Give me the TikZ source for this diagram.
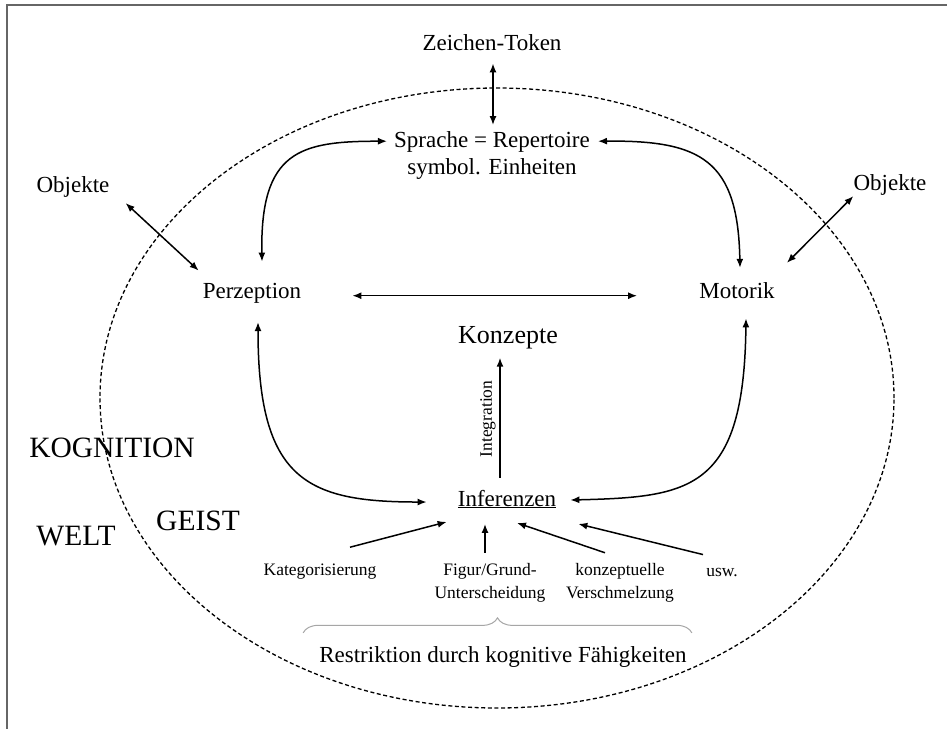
\documentclass[tikz,border=0pt]{standalone}
\usepackage{fontspec}
\setmainfont{Liberation Serif}
\usetikzlibrary{arrows.meta,decorations.pathreplacing}
\begin{document}
\begin{tikzpicture}[x=1pt,y=-1pt,
  lbl/.style={inner sep=0pt,font=\fontsize{23}{27}\selectfont},
  small/.style={inner sep=0pt,font=\fontsize{17.5}{23}\selectfont,align=center},
  big/.style={inner sep=0pt,font=\fontsize{29.5}{33}\selectfont},
  tip/.tip={Latex[length=9pt,width=7pt]},
  link/.style={line width=1.5pt,-tip},
  both/.style={line width=1.5pt,tip-tip},
  boundary/.style={line width=1.3pt,dash pattern=on 4pt off 2.6pt},
  frame/.style={line width=2pt,draw=black!60},
  restrbrace/.style={draw=black!35,line width=1pt,decorate,decoration={brace,amplitude=15pt}},
]
\useasboundingbox (0,0) rectangle (947,729);
\fill[white] (0,0) rectangle (947,729);
\draw[frame] (947,5) -- (6.7,5) -- (6.7,729);

% the mind as a dashed ellipse
\draw[boundary] (497,398) ellipse [x radius=397pt, y radius=310pt];

% labels
\node[lbl,anchor=base] (zt) at (492,50) {Zeichen-Token};
\node[lbl,align=center] (sp) at (492,155.2) {Sprache = Repertoire\\symbol. Einheiten};
\node[lbl,anchor=base] (objl) at (73,192) {Objekte};
\node[lbl,anchor=base] (objr) at (890,190) {Objekte};
\node[lbl,anchor=base] (perz) at (252,298) {Perzeption};
\node[lbl,anchor=base] (mot) at (737,298) {Motorik};
\node[lbl,anchor=base,font=\fontsize{26}{30}\selectfont] (konz) at (508,343) {Konzepte};
\node[lbl,anchor=base] (inf) at (507,506) {\underline{Inferenzen}};
\node[small,rotate=90] (integ) at (488,419) {Integration};
\node[small,anchor=base] (kat) at (320,575) {Kategorisierung};
\node[small] (fig) at (490,582.4) {Figur/Grund-\\Unterscheidung};
\node[small] (konzv) at (620,582.4) {konzeptuelle\\Verschmelzung};
\node[small,anchor=base] (usw) at (722,576) {usw.};
\node[lbl,anchor=base] (restr) at (503,662) {Restriktion durch kognitive Fähigkeiten};
\node[big,anchor=base] (kog) at (112,457) {KOGNITION};
\node[big,anchor=base] (welt) at (76,545) {WELT};
\node[big,anchor=base] (geist) at (198,530) {GEIST};

% connectors
\draw[both] ([xshift=1pt,yshift=-13pt]zt.south) -- ([xshift=1pt,yshift=6pt]sp.north);
\draw[both] ([xshift=10pt,yshift=21pt]perz.north) .. controls +(-2,-111) and +(-87,0) .. ([xshift=-7pt,yshift=14pt]sp.west);
\draw[both] ([xshift=8pt,yshift=14pt]sp.east) .. controls +(103,-1) and +(-2,-108) .. ([xshift=3pt,yshift=14pt]mot.north);
\draw[both] ([xshift=6pt,yshift=-19pt]perz.south) .. controls +(0,158) and +(-120,0) .. ([xshift=-31pt,yshift=-3pt]inf.west);
\draw[both] ([xshift=9pt,yshift=-20pt]mot.south) .. controls +(-2,172) and +(120,-3) .. ([xshift=14pt,yshift=-1pt]inf.east);
\draw[both] ([xshift=51pt]perz.mid east) -- ([xshift=-62pt]mot.mid west);
\draw[both] ([xshift=16pt,yshift=-6pt]objl.south east) -- ([xshift=-4pt,yshift=12pt]perz.north west);
\draw[both] ([yshift=-1pt]objr.south west) -- ([xshift=12pt,yshift=19pt]mot.north east);
\draw[link] ([xshift=-7pt,yshift=12pt]inf.north) -- ([xshift=-8pt,yshift=-9pt]konz.south);
\draw[link] ([xshift=30pt,yshift=16pt]kat.north) -- ([xshift=-11pt,yshift=-13.5pt]inf.south west);
\draw[link] ([xshift=-5pt,yshift=10pt]fig.north) -- ([xshift=-22pt,yshift=-15.5pt]inf.south);
\draw[link] ([xshift=-15pt,yshift=10pt]konzv.north) -- ([xshift=10pt,yshift=-14.5pt]inf.south);
\draw[link] ([xshift=-19pt,yshift=13pt]usw.north) -- ([xshift=22pt,yshift=-15.5pt]inf.south east);

% brace over the restriction label
\draw[restrbrace] ([xshift=-16pt,yshift=13pt]restr.north west) -- ([xshift=5pt,yshift=13pt]restr.north east);
\end{tikzpicture}
\end{document}
